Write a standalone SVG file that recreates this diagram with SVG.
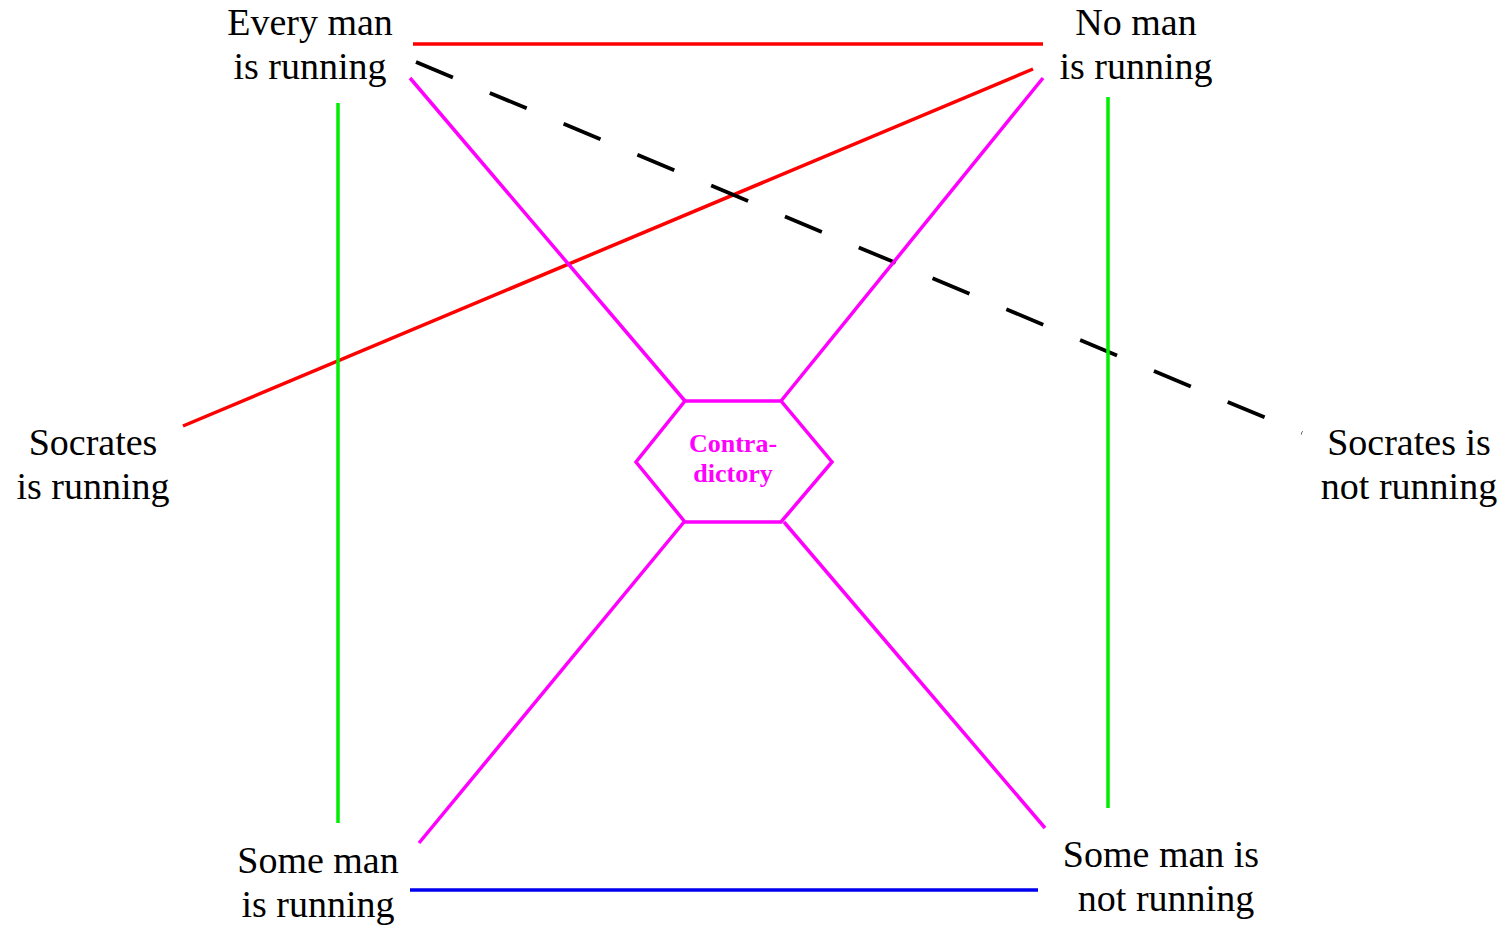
<svg xmlns="http://www.w3.org/2000/svg" width="1512" height="926" viewBox="0 0 1512 926">
<style>
.lbl{font-family:"Liberation Serif","Times New Roman",serif;font-size:38px;fill:#000;text-anchor:middle}
.hex{font-family:"Liberation Serif","Times New Roman",serif;font-size:26px;font-weight:bold;fill:#ff00ff;text-anchor:middle}
line,polygon{stroke-width:3.5;fill:none}
.red{stroke:#ff0000}
.mag{stroke:#ff00ff}
.grn{stroke:#00ee00}
.blu{stroke:#0000ee}
.dash{stroke:#000;stroke-width:3.8;stroke-dasharray:40 40}
</style>
<rect width="1512" height="926" fill="#fff"/>
<g id="connectors">
<line class="red" x1="413" y1="44" x2="1043" y2="44"/>
<line class="red" x1="1033" y1="69" x2="183" y2="426"/>
<line class="dash" x1="416" y1="62" x2="1302" y2="433"/>
<line class="mag" x1="410" y1="78" x2="685" y2="401"/>
<line class="mag" x1="1043" y1="78" x2="781" y2="401"/>
<line class="mag" x1="684" y1="522" x2="419" y2="843"/>
<line class="mag" x1="784" y1="522" x2="1045" y2="828"/>
<line class="grn" x1="338" y1="103" x2="338" y2="823"/>
<line class="grn" x1="1108" y1="97" x2="1108" y2="808"/>
<line class="blu" x1="410" y1="890" x2="1038" y2="890"/>
</g>
<g id="every">
<text class="lbl" x="310" y="35">Every man</text>
<text class="lbl" x="310" y="79">is running</text>
</g>
<g id="noman">
<text class="lbl" x="1136" y="35">No man</text>
<text class="lbl" x="1136" y="79">is running</text>
</g>
<g id="socrates">
<text class="lbl" x="93" y="455">Socrates</text>
<text class="lbl" x="93" y="499">is running</text>
</g>
<g id="socratesnot">
<text class="lbl" x="1409" y="455">Socrates is</text>
<text class="lbl" x="1409" y="499">not running</text>
</g>
<g id="someman">
<text class="lbl" x="318" y="873">Some man</text>
<text class="lbl" x="318" y="917">is running</text>
</g>
<g id="somemannot">
<text class="lbl" x="1161" y="867">Some man is</text>
<text class="lbl" x="1166" y="911">not running</text>
</g>
<g id="contradictory">
<polygon class="mag" points="685,401 781,401 832,462 781,522 685,522 636,462"/>
<text class="hex" x="733" y="452">Contra-</text>
<text class="hex" x="733" y="482">dictory</text>
</g>
</svg>
